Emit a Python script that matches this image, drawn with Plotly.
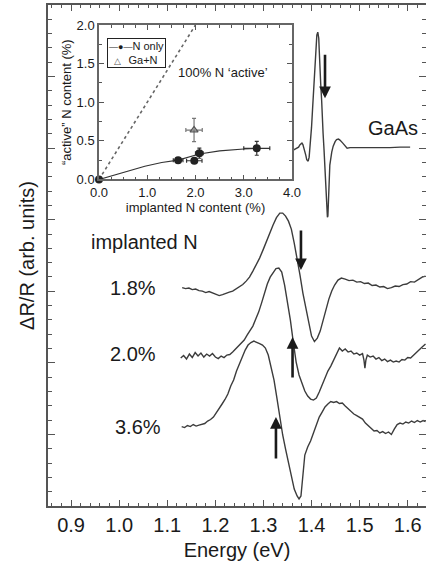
import plotly.graph_objects as go

# ---------------- main panel data (energy in eV, dR/R in arbitrary offset units) -------------
energy_gaas = [1.362, 1.368, 1.373, 1.376, 1.380, 1.382, 1.385, 1.388, 1.390, 1.393, 1.395, 1.398,
               1.400, 1.402, 1.404, 1.406, 1.407, 1.409, 1.411, 1.413, 1.415, 1.416, 1.418, 1.419,
               1.421, 1.422, 1.424, 1.426, 1.428, 1.430, 1.431, 1.433, 1.434, 1.436, 1.438, 1.442,
               1.445, 1.449, 1.452, 1.456, 1.459, 1.465, 1.470, 1.474, 1.480, 1.501, 1.522, 1.542,
               1.563, 1.584, 1.605]
signal_gaas = [4.972, 4.993, 5.014, 5.049, 5.070, 5.049, 4.986, 4.902, 4.839, 4.818, 4.874, 5.070,
               5.293, 5.531, 5.768, 6.006, 6.229, 6.439, 6.578, 6.620, 6.536, 6.369, 6.159, 5.908,
               5.670, 5.433, 5.209, 4.972, 4.721, 4.455, 4.204, 4.036, 4.050, 4.413, 4.763, 4.944,
               5.028, 5.091, 5.119, 5.126, 5.112, 5.070, 5.021, 5.000, 5.007, 5.007, 5.000, 5.007,
               5.007, 5.014, 5.014]

energy_18 = [1.131, 1.138, 1.145, 1.152, 1.159, 1.166, 1.173, 1.180, 1.187, 1.194, 1.201, 1.208,
             1.215, 1.222, 1.229, 1.236, 1.243, 1.250, 1.257, 1.264, 1.271, 1.278, 1.285, 1.292,
             1.299, 1.306, 1.313, 1.320, 1.327, 1.334, 1.340, 1.346, 1.352, 1.358, 1.364, 1.370,
             1.376, 1.382, 1.388, 1.394, 1.400, 1.406, 1.412, 1.418, 1.424, 1.430, 1.436, 1.442,
             1.448, 1.455, 1.462, 1.470, 1.478, 1.486, 1.494, 1.502, 1.510, 1.518, 1.526, 1.534,
             1.542, 1.550, 1.558, 1.566, 1.574, 1.582, 1.590, 1.598, 1.606, 1.614, 1.622, 1.630,
             1.637]
signal_18 = [3.052, 3.038, 3.045, 3.024, 3.031, 3.010, 3.003, 2.982, 2.996, 2.975, 2.954, 2.940,
             2.954, 2.975, 2.989, 3.003, 3.031, 3.059, 3.094, 3.142, 3.198, 3.282, 3.366, 3.464,
             3.575, 3.701, 3.813, 3.925, 4.029, 4.092, 4.092, 4.050, 3.980, 3.869, 3.673, 3.464,
             3.226, 2.975, 2.765, 2.556, 2.374, 2.297, 2.346, 2.444, 2.598, 2.765, 2.891, 3.003,
             3.087, 3.156, 3.184, 3.170, 3.149, 3.156, 3.128, 3.135, 3.108, 3.115, 3.080, 3.087,
             3.059, 3.066, 3.038, 3.052, 3.073, 3.066, 3.094, 3.101, 3.135, 3.128, 3.163, 3.198,
             3.212]

energy_20 = [1.128, 1.134, 1.140, 1.146, 1.152, 1.158, 1.164, 1.170, 1.176, 1.182, 1.188, 1.194,
             1.200, 1.206, 1.212, 1.218, 1.224, 1.230, 1.236, 1.242, 1.248, 1.254, 1.260, 1.266,
             1.272, 1.278, 1.284, 1.290, 1.296, 1.302, 1.308, 1.314, 1.320, 1.326, 1.332, 1.338,
             1.344, 1.350, 1.356, 1.362, 1.368, 1.374, 1.380, 1.386, 1.392, 1.398, 1.404, 1.410,
             1.416, 1.422, 1.428, 1.434, 1.440, 1.446, 1.452, 1.458, 1.464, 1.470, 1.476, 1.482,
             1.488, 1.494, 1.500, 1.506, 1.509, 1.511, 1.513, 1.516, 1.522, 1.528, 1.534, 1.540,
             1.546, 1.552, 1.558, 1.564, 1.570, 1.576, 1.582, 1.588, 1.594, 1.600, 1.606, 1.612,
             1.618, 1.624, 1.630, 1.637]
signal_20 = [2.067, 2.102, 2.053, 2.123, 2.074, 2.144, 2.095, 2.137, 2.081, 2.123, 2.095, 2.130,
             2.081, 2.060, 2.095, 2.074, 2.109, 2.116, 2.151, 2.193, 2.221, 2.277, 2.318, 2.388,
             2.444, 2.514, 2.612, 2.709, 2.835, 2.975, 3.101, 3.198, 3.268, 3.317, 3.324, 3.268,
             3.087, 2.863, 2.598, 2.291, 2.011, 1.830, 1.718, 1.606, 1.536, 1.494, 1.480, 1.508,
             1.592, 1.690, 1.802, 1.885, 1.955, 2.039, 2.123, 2.207, 2.165, 2.193, 2.151, 2.165,
             2.123, 2.137, 2.109, 2.130, 2.039, 1.927, 2.039, 2.109, 2.081, 2.095, 2.053, 2.074,
             2.032, 2.053, 2.018, 2.039, 2.011, 2.025, 2.011, 2.046, 2.039, 2.074, 2.067, 2.109,
             2.137, 2.179, 2.221, 2.263]

energy_36 = [1.130, 1.136, 1.142, 1.148, 1.154, 1.160, 1.166, 1.172, 1.178, 1.184, 1.190, 1.196,
             1.202, 1.208, 1.214, 1.220, 1.226, 1.232, 1.238, 1.244, 1.250, 1.256, 1.262, 1.268,
             1.274, 1.280, 1.286, 1.292, 1.298, 1.304, 1.310, 1.316, 1.322, 1.328, 1.334, 1.340,
             1.346, 1.352, 1.358, 1.364, 1.370, 1.374, 1.378, 1.382, 1.386, 1.392, 1.398, 1.404,
             1.410, 1.416, 1.422, 1.428, 1.434, 1.440, 1.446, 1.452, 1.458, 1.464, 1.470, 1.476,
             1.482, 1.488, 1.494, 1.500, 1.506, 1.512, 1.518, 1.524, 1.530, 1.536, 1.542, 1.548,
             1.554, 1.560, 1.566, 1.572, 1.578, 1.584, 1.590, 1.596, 1.602, 1.608, 1.614, 1.620,
             1.626, 1.632, 1.637]
signal_36 = [1.110, 1.096, 1.124, 1.110, 1.138, 1.117, 1.131, 1.145, 1.152, 1.187, 1.208, 1.243,
             1.299, 1.355, 1.425, 1.488, 1.564, 1.676, 1.760, 1.885, 1.983, 2.081, 2.179, 2.249,
             2.284, 2.304, 2.291, 2.270, 2.249, 2.207, 2.109, 1.941, 1.760, 1.508, 1.229, 0.992,
             0.796, 0.601, 0.405, 0.237, 0.140, 0.098, 0.140, 0.391, 0.712, 0.824, 0.908, 1.020,
             1.145, 1.243, 1.313, 1.383, 1.425, 1.459, 1.446, 1.459, 1.432, 1.439, 1.397, 1.362,
             1.327, 1.285, 1.264, 1.236, 1.215, 1.159, 1.117, 1.089, 1.047, 1.054, 1.020, 1.040,
             1.013, 1.034, 0.999, 1.075, 1.138, 1.159, 1.145, 1.173, 1.159, 1.187, 1.166, 1.194,
             1.173, 1.194, 1.180]

# arrows marking the transition energy (tail -> tip)
arrow_energy = [1.428, 1.378, 1.3605, 1.326]
arrow_tail = [6.327, 3.869, 1.774, 0.642]
arrow_tip = [5.698, 3.296, 2.360, 1.243]

# curve labels
label_text = ["GaAs", "implanted N", "1.8%", "2.0%", "3.6%"]
label_energy = [1.5694, 1.0518, 1.029, 1.029, 1.039]
label_signal = [5.279, 3.687, 3.045, 2.123, 1.103]

# ---------------- inset data -------------
n_only_x = [0.0, 1.64, 1.975, 2.08, 3.27]
n_only_y = [0.0, 0.25, 0.243, 0.34, 0.404]
n_only_xerr = [0.0, 0.10, 0.16, 0.08, 0.27]
n_only_yerr = [0.0, 0.03, 0.03, 0.065, 0.09]
n_only_fit_x = [0.0, 0.5, 0.95, 1.3, 1.64, 2.08, 2.5, 3.0, 3.27]
n_only_fit_y = [0.0, 0.095, 0.172, 0.22, 0.25, 0.33, 0.37, 0.395, 0.404]
gan_x = [1.97]
gan_y = [0.64]
gan_xerr = [0.17]
gan_yerr = [0.15]
full_active_x = [0.0, 2.0]
full_active_y = [0.0, 2.0]
legend_names = ["N only", "Ga+N"]

FONT = "Liberation Sans, Arial, sans-serif"
CURVE = "#3c3c3c"
AXC = "#555555"

fig = go.Figure()

for ex, sy in [(energy_gaas, signal_gaas), (energy_18, signal_18),
               (energy_20, signal_20), (energy_36, signal_36)]:
    fig.add_trace(go.Scatter(x=ex, y=sy, mode="lines", showlegend=False,
                             line=dict(color=CURVE, width=1.4), xaxis="x", yaxis="y"))

# inset traces
fig.add_trace(go.Scatter(x=full_active_x, y=full_active_y, mode="lines", showlegend=False,
                         line=dict(color="#666666", width=1.6, dash="dot"),
                         xaxis="x2", yaxis="y2"))
fig.add_trace(go.Scatter(x=n_only_fit_x, y=n_only_fit_y, mode="lines", showlegend=False,
                         line=dict(color="#333333", width=1.2), xaxis="x2", yaxis="y2"))
fig.add_trace(go.Scatter(x=n_only_x, y=n_only_y, mode="markers", name=legend_names[0],
                         showlegend=False,
                         marker=dict(color="#222222", size=8, symbol="circle"),
                         error_x=dict(type="data", array=n_only_xerr, color="#333333",
                                      thickness=1.2, width=2),
                         error_y=dict(type="data", array=n_only_yerr, color="#333333",
                                      thickness=1.2, width=2),
                         cliponaxis=False, xaxis="x2", yaxis="y2"))
fig.add_trace(go.Scatter(x=gan_x, y=gan_y, mode="markers", name=legend_names[1],
                         showlegend=False,
                         marker=dict(color="#555555", size=7, symbol="triangle-up-open",
                                     line=dict(width=1.2)),
                         error_x=dict(type="data", array=gan_xerr, color="#777777",
                                      thickness=1.2, width=2),
                         error_y=dict(type="data", array=gan_yerr, color="#777777",
                                      thickness=1.2, width=2),
                         cliponaxis=False, xaxis="x2", yaxis="y2"))

annotations = []
for e, t0, t1 in zip(arrow_energy, arrow_tail, arrow_tip):
    annotations.append(dict(x=e, y=t1, ax=e, ay=t0, xref="x", yref="y", axref="x", ayref="y",
                            text="", showarrow=True, arrowhead=2, arrowsize=0.9,
                            arrowwidth=2.6, arrowcolor="#1a1a1a", standoff=0))
for txt, e, s in zip(label_text, label_energy, label_signal):
    annotations.append(dict(x=e, y=s, xref="x", yref="y", text=txt, showarrow=False,
                            font=dict(family=FONT, size=20, color="#1a1a1a"),
                            xanchor="center", yanchor="middle"))
annotations.append(dict(x=2.56, y=1.39, xref="x2", yref="y2", text="100% N \u2018active\u2019",
                        showarrow=False, font=dict(family=FONT, size=13, color="#1a1a1a"),
                        xanchor="center", yanchor="middle"))
# compact legend box (as in the original figure)
legend_text = ("<span style='font-size:9px'>\u2014\u25cf\u2014</span>" + legend_names[0] +
               "<br><span style='font-size:9px;color:#555555'>\u00a0\u00a0\u25b3\u00a0\u00a0\u00a0</span>"
               + legend_names[1])
annotations.append(dict(x=0.042, y=0.914, xref="x2 domain", yref="y2 domain", text=legend_text,
                        showarrow=False, align="left", xanchor="left", yanchor="top",
                        font=dict(family=FONT, size=11, color="#1a1a1a"),
                        bordercolor="#222222", borderwidth=1, borderpad=1, bgcolor="white"))

fig.update_layout(
    width=426, height=568,
    margin=dict(l=48, r=0, t=5, b=62),
    paper_bgcolor="white", plot_bgcolor="white",
    font=dict(family=FONT, color="#1a1a1a"),
    annotations=annotations,
    showlegend=False,
    xaxis=dict(range=[0.852, 1.638], tick0=0.9, dtick=0.1, tickformat=".1f", automargin=False,
               ticks="inside", ticklen=6, tickwidth=1.2, tickcolor=AXC,
               minor=dict(dtick=0.02, ticks="inside", ticklen=3, tickcolor=AXC),
               showline=True, linecolor=AXC, linewidth=2, mirror="ticks",
               showgrid=False, zeroline=False,
               tickfont=dict(family=FONT, size=20, color="#1a1a1a"),
               title=dict(text="Energy (eV)", font=dict(family=FONT, size=20, color="#1a1a1a"),
                          standoff=8)),
    yaxis=dict(range=[0, 7], tick0=0, dtick=1, showticklabels=False, automargin=False,
               ticks="inside", ticklen=7, tickwidth=1.2, tickcolor=AXC,
               minor=dict(dtick=0.2, ticks="inside", ticklen=4, tickcolor=AXC),
               showline=True, linecolor=AXC, linewidth=2, mirror="ticks",
               showgrid=False, zeroline=False,
               title=dict(text="\u0394R/R (arb. units)",
                          font=dict(family=FONT, size=20, color="#1a1a1a"), standoff=6)),
    xaxis2=dict(domain=[0.1349, 0.6455], anchor="y2", range=[0, 4], dtick=1, tickformat=".1f",
                automargin=False,
                ticks="inside", ticklen=5, tickcolor="#555555",
                minor=dict(dtick=0.25, ticks="inside", ticklen=3, tickcolor="#555555"),
                showline=True, linecolor="#666666", linewidth=1.5, mirror="ticks",
                showgrid=False, zeroline=False,
                tickfont=dict(family=FONT, size=13, color="#1a1a1a"),
                title=dict(text="implanted N content (%)",
                           font=dict(family=FONT, size=13, color="#1a1a1a"), standoff=2)),
    yaxis2=dict(domain=[0.6517, 0.9601], anchor="x2", range=[0, 2], dtick=0.5, tickformat=".1f",
                automargin=False,
                ticks="inside", ticklen=5, tickcolor="#555555",
                minor=dict(dtick=0.25, ticks="inside", ticklen=3, tickcolor="#555555"),
                showline=True, linecolor="#666666", linewidth=1.5, mirror="ticks",
                showgrid=False, zeroline=False,
                tickfont=dict(family=FONT, size=13, color="#1a1a1a"),
                title=dict(text="\u201cactive\u201d N content (%)",
                           font=dict(family=FONT, size=13, color="#1a1a1a"), standoff=2)),
)

fig.write_html("out.html")
